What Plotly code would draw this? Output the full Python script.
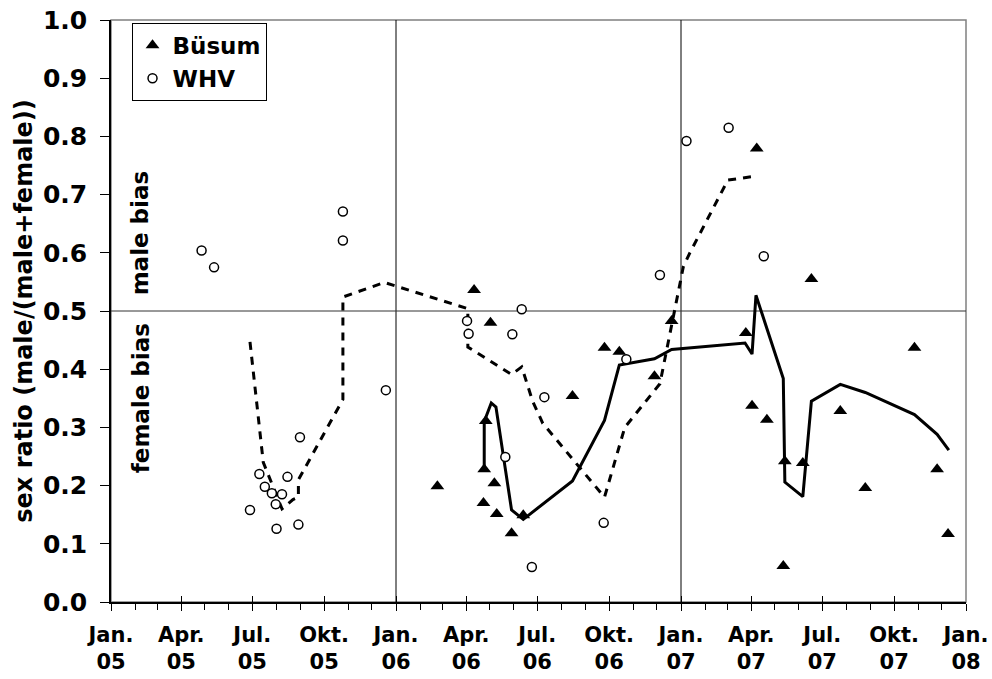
import plotly.graph_objects as go

# ---------------- data ----------------
busum_dates = ["2006-02-23", "2006-04-11", "2006-04-23", "2006-04-24", "2006-04-26", "2006-05-02",
               "2006-05-07", "2006-05-10", "2006-05-29", "2006-06-13", "2006-08-15", "2006-09-25",
               "2006-10-14", "2006-11-28", "2006-12-20", "2007-03-25", "2007-04-02", "2007-04-08",
               "2007-04-21", "2007-05-12", "2007-05-14", "2007-06-06", "2007-06-17", "2007-07-24",
               "2007-08-25", "2007-10-27", "2007-11-25", "2007-12-09"]
busum_ratio = [0.199, 0.536, 0.170, 0.228, 0.311, 0.480,
               0.204, 0.151, 0.118, 0.149, 0.354, 0.437,
               0.430, 0.388, 0.483, 0.462, 0.337, 0.779,
               0.313, 0.062, 0.242, 0.239, 0.555, 0.328,
               0.196, 0.437, 0.228, 0.117]

whv_dates = ["2005-04-27", "2005-05-13", "2005-06-28", "2005-07-10", "2005-07-17", "2005-07-26",
             "2005-07-31", "2005-08-01", "2005-08-08", "2005-08-15", "2005-08-29", "2005-08-31",
             "2005-10-25", "2005-10-25", "2005-12-19", "2006-04-02", "2006-04-04", "2006-05-21",
             "2006-05-30", "2006-06-11", "2006-06-24", "2006-07-10", "2006-09-24", "2006-10-23",
             "2006-12-05", "2007-01-08", "2007-03-03", "2007-04-17"]
whv_ratio = [0.604, 0.575, 0.158, 0.220, 0.198, 0.187,
             0.168, 0.126, 0.185, 0.215, 0.133, 0.283,
             0.671, 0.621, 0.364, 0.483, 0.461, 0.249,
             0.460, 0.503, 0.060, 0.352, 0.136, 0.417,
             0.562, 0.792, 0.815, 0.594]

busum_trend_dates = ["2006-04-24", "2006-04-24", "2006-05-03", "2006-05-09", "2006-05-29", "2006-06-13",
                     "2006-08-15", "2006-09-25", "2006-10-14", "2006-11-28", "2006-12-20", "2007-03-24",
                     "2007-04-02", "2007-04-07", "2007-05-12", "2007-05-14", "2007-06-06", "2007-06-17",
                     "2007-07-24", "2007-08-25", "2007-10-27", "2007-11-25", "2007-12-10"]
busum_trend = [0.232, 0.310, 0.342, 0.335, 0.158, 0.142,
               0.208, 0.312, 0.407, 0.418, 0.434, 0.445,
               0.426, 0.527, 0.384, 0.206, 0.181, 0.345,
               0.374, 0.360, 0.322, 0.288, 0.261]

whv_trend_dates = ["2005-06-28", "2005-07-15", "2005-08-08", "2005-08-22", "2005-08-29", "2005-08-29",
                   "2005-10-25", "2005-10-25", "2005-12-17", "2006-04-03", "2006-04-03", "2006-05-29",
                   "2006-06-11", "2006-06-25", "2006-07-08", "2006-09-25", "2006-10-21", "2006-12-05",
                   "2007-01-04", "2007-01-12", "2007-03-02", "2007-04-03"]
whv_trend = [0.447, 0.240, 0.160, 0.176, 0.180, 0.210,
             0.348, 0.524, 0.549, 0.504, 0.438, 0.391,
             0.404, 0.345, 0.307, 0.180, 0.300, 0.375,
             0.576, 0.599, 0.725, 0.731]

tick_dates = ["2005-01-01", "2005-04-01", "2005-07-01", "2005-10-01",
              "2006-01-01", "2006-04-01", "2006-07-01", "2006-10-01",
              "2007-01-01", "2007-04-01", "2007-07-01", "2007-10-01", "2008-01-01"]
tick_labels = ["Jan.<br>05", "Apr.<br>05", "Jul.<br>05", "Okt.<br>05",
               "Jan.<br>06", "Apr.<br>06", "Jul.<br>06", "Okt.<br>06",
               "Jan.<br>07", "Apr.<br>07", "Jul.<br>07", "Okt.<br>07", "Jan.<br>08"]
y_ticks = [0.0, 0.1, 0.2, 0.3, 0.4, 0.5, 0.6, 0.7, 0.8, 0.9, 1.0]
year_dividers = ["2006-01-01", "2007-01-01"]
balance_line = 0.5

FONT = "DejaVu Sans"

fig = go.Figure()

fig.add_trace(go.Scatter(x=whv_trend_dates, y=whv_trend, mode="lines",
                         line=dict(color="black", width=3, dash="8px,7px"),
                         showlegend=False, hoverinfo="skip"))
fig.add_trace(go.Scatter(x=busum_trend_dates, y=busum_trend, mode="lines",
                         line=dict(color="black", width=3),
                         showlegend=False, hoverinfo="skip"))
fig.add_trace(go.Scatter(x=busum_dates, y=busum_ratio, mode="markers", name="Büsum",
                         marker=dict(symbol="triangle-up", size=12, color="black",
                                     line=dict(width=0))))
fig.add_trace(go.Scatter(x=whv_dates, y=whv_ratio, mode="markers", name="WHV",
                         marker=dict(symbol="circle", size=9, color="white",
                                     line=dict(color="black", width=1.5))))
# invisible helper trace so the overlay axis (inner half of the quarterly ticks) is drawn
fig.add_trace(go.Scatter(x=[tick_dates[0]], y=[y_ticks[0]], xaxis="x2", mode="markers",
                         marker=dict(opacity=0), showlegend=False, hoverinfo="skip"))

# frame and reference lines
fig.add_shape(type="rect", xref="paper", yref="paper", x0=0, x1=1, y0=0, y1=1,
              line=dict(color="#808080", width=1.5), layer="below")
for d in year_dividers:
    fig.add_shape(type="line", xref="x", yref="paper", x0=d, x1=d, y0=0, y1=1,
                  line=dict(color="black", width=1), layer="below")
fig.add_shape(type="line", xref="paper", yref="y", x0=0, x1=1, y0=balance_line, y1=balance_line,
              line=dict(color="#333333", width=1), layer="below")

fig.add_annotation(text="male bias", xref="paper", yref="y", x=0.035, y=0.635,
                   xanchor="center", yanchor="middle",
                   textangle=-90, showarrow=False,
                   font=dict(family=FONT, size=23, color="black", weight="bold"))
fig.add_annotation(text="female bias", xref="paper", yref="y", x=0.035, y=0.35,
                   xanchor="center", yanchor="middle",
                   textangle=-90, showarrow=False,
                   font=dict(family=FONT, size=23, color="black", weight="bold"))

fig.update_layout(
    width=992, height=679,
    margin=dict(l=111, r=26, t=20, b=77, autoexpand=False),
    paper_bgcolor="white", plot_bgcolor="white",
    font=dict(family=FONT, color="black"),
    legend=dict(x=0.024, y=0.995, xanchor="left", yanchor="top",
                bgcolor="white", bordercolor="black", borderwidth=1,
                font=dict(family=FONT, size=23, color="black", weight="bold"),
                itemwidth=30, tracegroupgap=0),
    xaxis=dict(type="date", range=["2005-01-01", "2008-01-01"], automargin=False,
               tickvals=tick_dates, ticktext=tick_labels,
               ticks="outside", ticklen=7, tickwidth=1, tickcolor="black",
               minor=dict(dtick="M1", tick0="2005-01-01", ticks="outside", ticklen=6,
                          tickwidth=1, tickcolor="black", showgrid=False),
               showline=True, linecolor="black", linewidth=1.5,
               showgrid=False, zeroline=False,
               tickfont=dict(family=FONT, size=21, color="black", weight="bold"),
               ticklabelstandoff=6),
    xaxis2=dict(type="date", range=["2005-01-01", "2008-01-01"], overlaying="x",
                anchor="y", side="bottom", automargin=False,
                tickvals=tick_dates, showticklabels=False,
                ticks="inside", ticklen=6, tickwidth=1, tickcolor="black",
                showline=False, showgrid=False, zeroline=False),
    yaxis=dict(range=[0, 1], tickvals=y_ticks, tickformat=".1f", automargin=False,
               ticks="outside", ticklen=9, tickwidth=1, tickcolor="black",
               showline=True, linecolor="black", linewidth=1.5,
               showgrid=False, zeroline=False,
               tickfont=dict(family=FONT, size=25, color="black", weight="bold"),
               ticklabelstandoff=8,
               title=dict(text="sex ratio (male/(male+female))", standoff=4,
                          font=dict(family=FONT, size=24, color="black", weight="bold"))),
)

fig.write_html("out.html")
